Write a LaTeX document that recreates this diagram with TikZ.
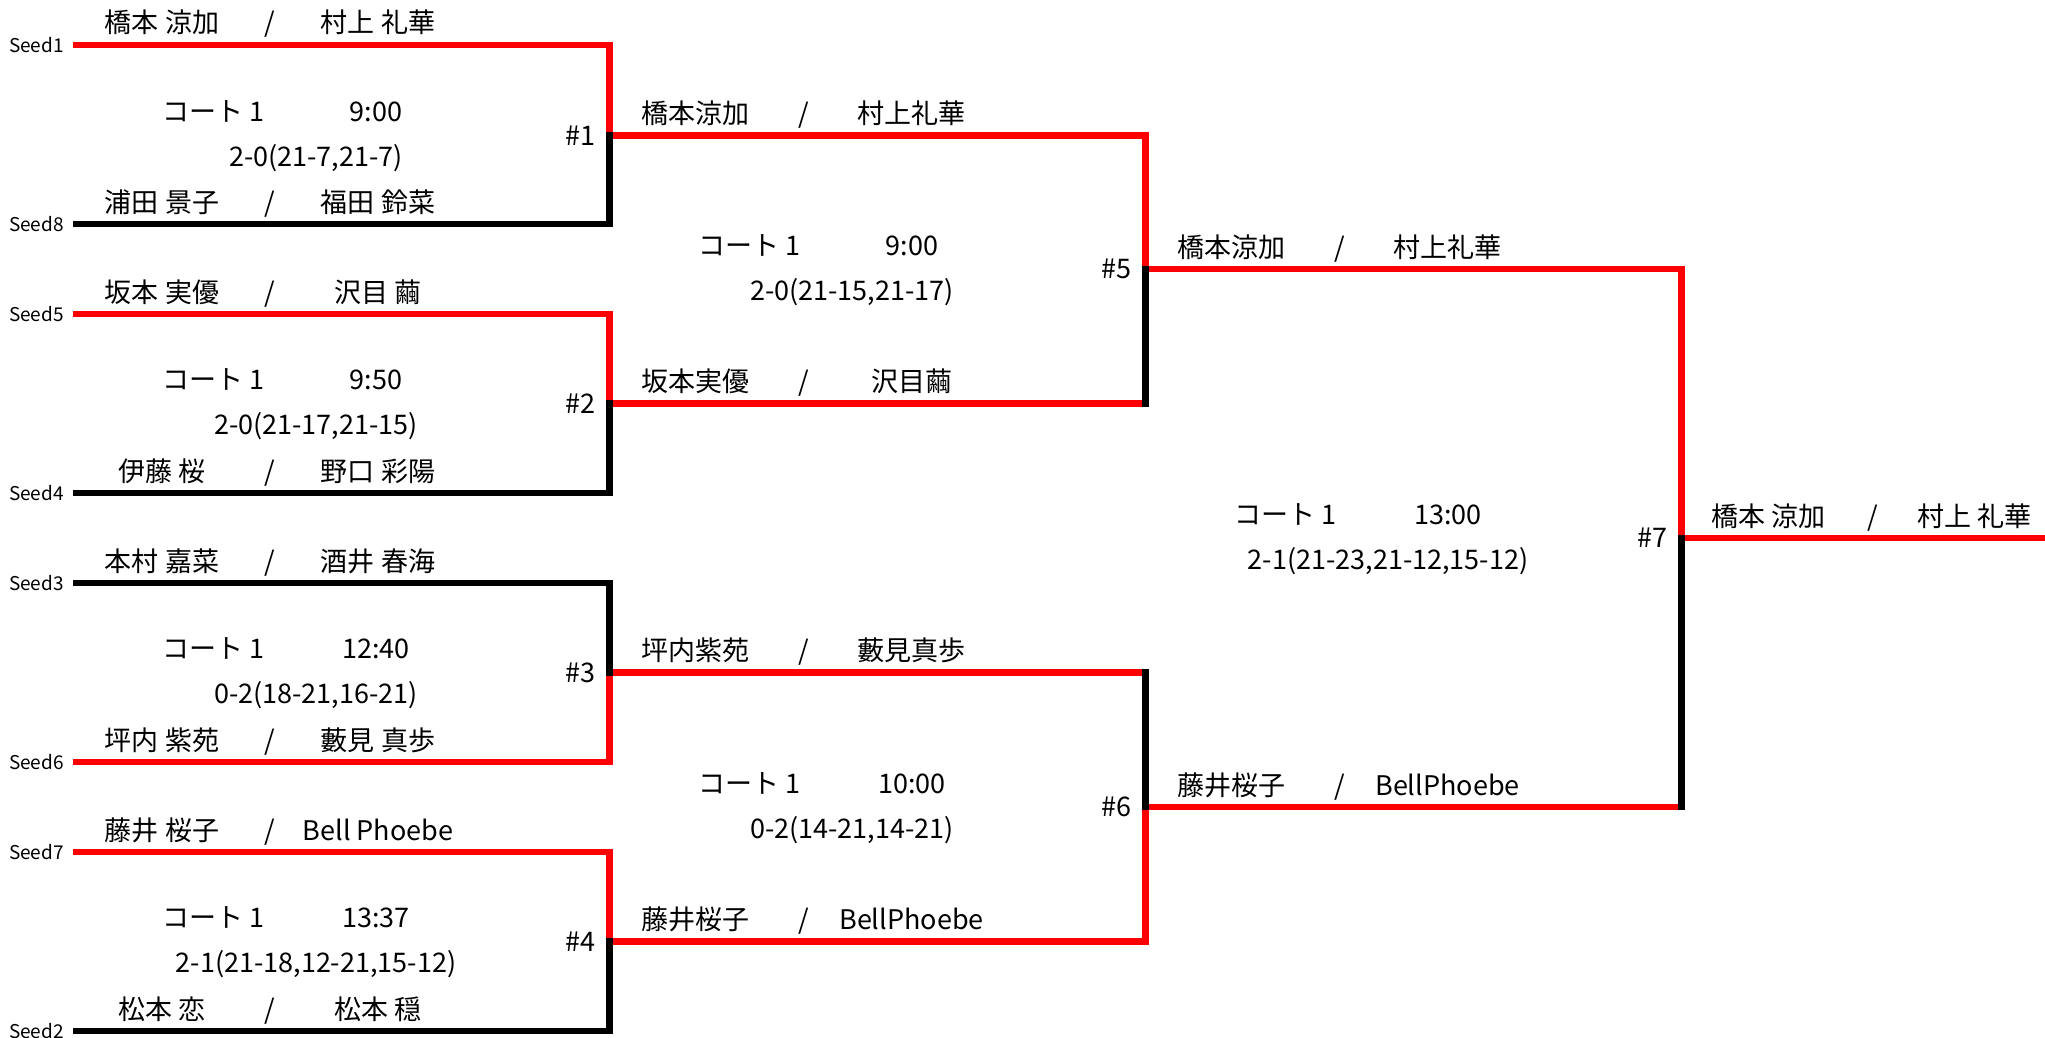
\documentclass[tikz,border=0pt]{standalone}
\usepackage{fontspec}
\setmainfont{Noto Sans CJK JP}
\usetikzlibrary{calc, positioning}

\begin{document}
\begin{tikzpicture}[x=1pt, y=-1pt, line width=6.5pt, line cap=rect,
    font=\fontsize{27}{32}\selectfont,
    txt/.style={anchor=base, inner sep=0pt},
    seed/.style={inner sep=0pt, font=\fontsize{19}{22}\selectfont},
    num/.style={inner sep=0pt}]
  \useasboundingbox (0,0) rectangle (2045,1038);

  % line ends
  \coordinate (s1) at (76,45);   \coordinate (s8) at (76,224);
  \coordinate (s5) at (76,314);  \coordinate (s4) at (76,493);
  \coordinate (s3) at (76,583);  \coordinate (s6) at (76,762);
  \coordinate (s7) at (76,852);  \coordinate (s2) at (76,1031);
  \coordinate (m1) at (609.5,135.5);  \coordinate (m2) at (609.5,403.5);
  \coordinate (m3) at (609.5,672.5);  \coordinate (m4) at (609.5,941.5);
  \coordinate (m5) at (1145.5,269);   \coordinate (m6) at (1145.5,807);
  \coordinate (m7) at (1681.5,538);   \coordinate (w) at (2045,538);

  % winners
  \draw[red] (s1) -| (m1);  \draw[red] (s5) -| (m2);
  \draw[red] (s6) -| (m3);  \draw[red] (s7) -| (m4);
  \draw[red] (m1) -| (m5);  \draw[red] (m2) -- (m2 -| m5);
  \draw[red] (m4) -| (m6);  \draw[red] (m3) -- (m3 -| m6);
  \draw[red] (m5) -| (m7);  \draw[red] (m6) -- (m6 -| m7);
  \draw[red] (m7) -- (w);
  % losers
  \draw (s8) -| (m1);  \draw (s4) -| (m2);
  \draw (s3) -| (m3);  \draw (s2) -| (m4);
  \draw (m2 -| m5) -- (m5);  \draw (m3 -| m6) -- (m6);
  \draw (m6 -| m7) -- (m7);

  \foreach \i in {1,...,8}
    \node[seed, left=9pt of s\i] (l\i) {Seed\i};

  % pairs
  \foreach \p/\l/\r in {s1/橋本 涼加/村上 礼華, s8/浦田 景子/福田 鈴菜,
      s5/坂本 実優/沢目 繭, s4/伊藤 桜/野口 彩陽,
      s3/本村 嘉菜/酒井 春海, s6/坪内 紫苑/藪見 真歩,
      s7/藤井 桜子/Bell Phoebe, s2/松本 恋/松本 穏,
      m1/橋本涼加/村上礼華, m2/坂本実優/沢目繭,
      m3/坪内紫苑/藪見真歩, m4/藤井桜子/BellPhoebe,
      m5/橋本涼加/村上礼華, m6/藤井桜子/BellPhoebe} {
    \node[txt] (\p-l) at ($(\p)+(86,-12)$) {\l};
    \node[txt] (\p-sl) at ($(\p)+(194,-12)$) {/};
    \node[txt] (\p-r) at ($(\p)+(302,-12)$) {\r};
  }
  \node[txt] (w-l) at ($(m7)+(87,-12)$) {橋本 涼加};
  \node[txt] (w-sl) at ($(m7)+(191,-12)$) {/};
  \node[txt] (w-r) at ($(m7)+(293,-12)$) {村上 礼華};

  % matches
  \foreach \i/\tm/\sc in {1/9:00/{2-0(21-7,21-7)}, 2/9:50/{2-0(21-17,21-15)},
      3/12:40/{0-2(18-21,16-21)}, 4/13:37/{2-1(21-18,12-21,15-12)},
      5/9:00/{2-0(21-15,21-17)}, 6/10:00/{0-2(14-21,14-21)},
      7/13:00/{2-1(21-23,21-12,15-12)}} {
    \node[txt] (c\i) at ($(m\i)+(-396,-14)$) {コート 1};
    \node[txt] (t\i) at ($(m\i)+(-233.5,-14)$) {\tm};
    \node[txt] (r\i) at ($(m\i)+(-293.5,31)$) {\sc};
    \node[num, left=11pt of m\i] (n\i) {\#\i};
  }
\end{tikzpicture}
\end{document}
